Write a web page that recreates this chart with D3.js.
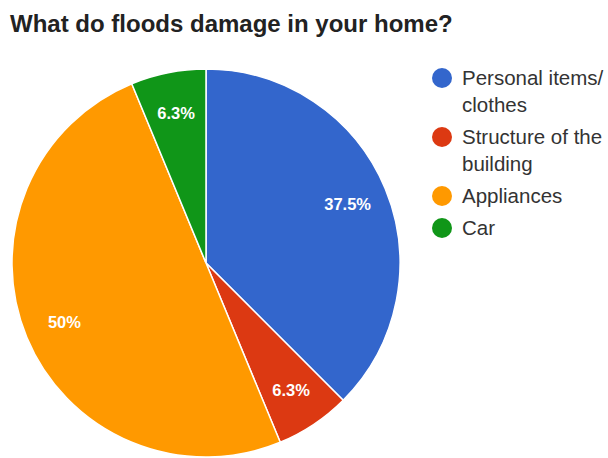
<!DOCTYPE html>
<html>
<head>
<meta charset="utf-8">
<script src="https://cdn.jsdelivr.net/npm/d3@7"></script>
<style>
  html, body { margin: 0; padding: 0; background: #fff; }
  svg { display: block; font-family: "Liberation Sans", Arial, sans-serif; }
</style>
</head>
<body>
<svg id="chart" width="608" height="458"></svg>
<script>
// Survey answers: what floods damage in the home (response counts)
const categories = ["Personal items/ clothes", "Structure of the building", "Appliances", "Car"];
const legendLines = [["Personal items/", "clothes"], ["Structure of the", "building"], ["Appliances"], ["Car"]];
const counts = [6, 1, 8, 1];
const colors = ["#3366cc", "#dc3912", "#ff9900", "#109618"];
const title = "What do floods damage in your home?";

const svg = d3.select("#chart");
const W = 608, H = 458;

svg.append("rect").attr("width", W).attr("height", H).attr("fill", "#fff");

svg.append("text")
  .attr("x", 10).attr("y", 32)
  .attr("font-size", 24).attr("font-weight", "bold")
  .attr("fill", "#222")
  .text(title);

const cx = 206, cy = 263, radius = 194;
const total = d3.sum(counts);
const data = categories.map((c, i) => ({ name: c, value: counts[i], color: colors[i] }));

const pie = d3.pie().sort(null).value(d => d.value);
const arc = d3.arc().innerRadius(0).outerRadius(radius);
const labelArc = d3.arc().innerRadius(radius * 0.79).outerRadius(radius * 0.79);

const g = svg.append("g").attr("transform", `translate(${cx},${cy})`);
const arcs = pie(data);

g.selectAll("path.slice")
  .data(arcs)
  .join("path")
  .attr("class", "slice")
  .attr("d", arc)
  .attr("fill", d => d.data.color)
  .attr("stroke", "#fff")
  .attr("stroke-width", 1.5);

const fmt = v => {
  const p = Math.round(v / total * 1000) / 10;
  return (Number.isInteger(p) ? p.toFixed(0) : p.toFixed(1)) + "%";
};

g.selectAll("text.pct")
  .data(arcs)
  .join("text")
  .attr("class", "pct")
  .attr("transform", d => `translate(${labelArc.centroid(d)})`)
  .attr("text-anchor", "middle")
  .attr("dy", "0.36em")
  .attr("font-size", 16.5).attr("font-weight", "bold")
  .attr("fill", "#fff")
  .text(d => fmt(d.data.value));

// Legend: one-line entries take 32px, two-line entries 59px
const legend = svg.append("g");
let y = 78;
legendLines.forEach((lines, i) => {
  const item = legend.append("g");
  item.append("circle")
    .attr("cx", 442).attr("cy", y).attr("r", 10)
    .attr("fill", colors[i]);
  lines.forEach((line, j) => {
    item.append("text")
      .attr("x", 462).attr("y", y + 7 + j * 27)
      .attr("font-size", 20.5)
      .attr("fill", "#333")
      .text(line);
  });
  y += lines.length * 27 + 5;
});
</script>
</body>
</html>
